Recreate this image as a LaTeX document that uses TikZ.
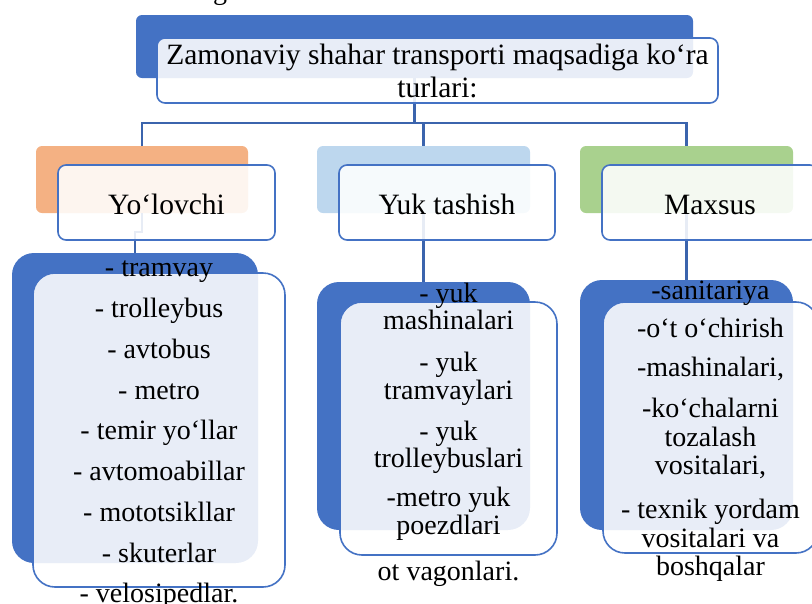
\documentclass[tikz,border=0pt]{standalone}
\usepackage{fontspec}
\setmainfont{Liberation Serif}
\definecolor{accblue}{HTML}{4472C4}
\definecolor{lnkblue}{HTML}{3B64AD}
\definecolor{accorange}{HTML}{F4B183}
\definecolor{acclight}{HTML}{BDD7EE}
\definecolor{accgreen}{HTML}{A9D18E}
\tikzset{
  backbox/.style={fill=#1, rounded corners=6pt, inner sep=0pt},
  frontbox/.style={draw=accblue, line width=1.6pt, fill=white, fill opacity=0.88,
    rounded corners=8pt, inner sep=0pt},
  lnk/.style={draw=lnkblue, line width=2.2pt},
  headtext/.style={align=center, font=\fontsize{29.5}{33}\selectfont},
  listtext/.style={align=center, font=\fontsize{28}{28}\selectfont},
}
\begin{document}
\begin{tikzpicture}[x=1pt,y=-1pt]
\useasboundingbox (0,0) rectangle (812,603);
\node[anchor=base, font=\fontsize{28}{30}\selectfont] (cutg) at (220,-1) {g};
% back boxes
\node[backbox=accblue, minimum width=557pt, minimum height=63pt] (topB) at (414.5,46.5) {};
\node[backbox=accorange, minimum width=212pt, minimum height=67pt] (hdrL) at (142,179.5) {};
\node[backbox=acclight, minimum width=213pt, minimum height=67pt] (hdrM) at (423.5,179.5) {};
\node[backbox=accgreen, minimum width=213pt, minimum height=67pt] (hdrR) at (686.5,179.5) {};
\node[backbox=accblue, rounded corners=22pt, minimum width=246pt, minimum height=310pt] (lstL) at (135,408) {};
\node[backbox=accblue, rounded corners=22pt, minimum width=213pt, minimum height=248pt] (lstM) at (423.5,406) {};
\node[backbox=accblue, rounded corners=22pt, minimum width=213pt, minimum height=250pt] (lstR) at (686.5,405) {};
% connectors
\draw[lnk] (topB.south) -- ++(0,45) coordinate (jn);
\draw[lnk] (jn) -| (hdrL.north);
\draw[lnk] (jn) -| (hdrM.north);
\draw[lnk] (jn) -| (hdrR.north);
\draw[lnk] (hdrL.south) -- ++(0,19) -| (lstL.north);
\draw[lnk] (hdrM.south) -- (lstM.north);
\draw[lnk] (hdrR.south) -- (lstR.north);
% front boxes
\node[frontbox, minimum width=561pt, minimum height=65pt] (topF) at (437.5,70.5) {};
\node[frontbox, minimum width=217pt, minimum height=75pt] (frL) at (166.5,202.5) {};
\node[frontbox, minimum width=216pt, minimum height=75pt] (frM) at (447,202.5) {};
\node[frontbox, minimum width=216pt, minimum height=75pt] (frR) at (710,202.5) {};
\node[frontbox, rounded corners=22pt, minimum width=252pt, minimum height=314pt] (lfL) at (159,430) {};
\node[frontbox, rounded corners=22pt, minimum width=217pt, minimum height=253pt] (lfM) at (448.5,428.5) {};
\node[frontbox, rounded corners=22pt, minimum width=215pt, minimum height=251pt] (lfR) at (710.5,427.5) {};
% texts
\node[headtext] (ttl) at (topF.center) {Zamonaviy shahar transporti maqsadiga ko‘ra\\turlari:};
\node[headtext] (tL) at ([yshift=-2pt]frL.center) {Yo‘lovchi};
\node[headtext] (tM) at ([yshift=-2pt]frM.center) {Yuk tashish};
\node[headtext] (tR) at ([yshift=-2pt]frR.center) {Maxsus};
\node[listtext] (xL) at ([yshift=-5pt]lfL.center) {- tramvay\\[12.75pt] - trolleybus\\[12.75pt] - avtobus\\[12.75pt] - metro\\[12.75pt]
  - temir yo‘llar\\[12.75pt] - avtomoabillar\\[12.75pt] - mototsikllar\\[12.75pt] - skuterlar\\[12.75pt] - velosipedlar.};
\node[listtext] (xM) at ([yshift=-6pt]lfM.center) {- yuk\\[-1pt] mashinalari\\[14pt] - yuk\\ tramvaylari\\[13pt] - yuk\\[-1pt] trolleybuslari\\[11pt]
  -metro yuk\\ poezdlari\\[18pt] ot vagonlari.};
\node[listtext] (xR) at ([yshift=-3.5pt]lfR.center) {-sanitariya\\[10pt] -o‘t o‘chirish\\[11pt] -mashinalari,\\[13pt]
  -ko‘chalarni\\[1pt] tozalash\\ vositalari,\\[16pt] - texnik yordam\\[1pt] vositalari va\\ boshqalar};
\end{tikzpicture}
\end{document}
